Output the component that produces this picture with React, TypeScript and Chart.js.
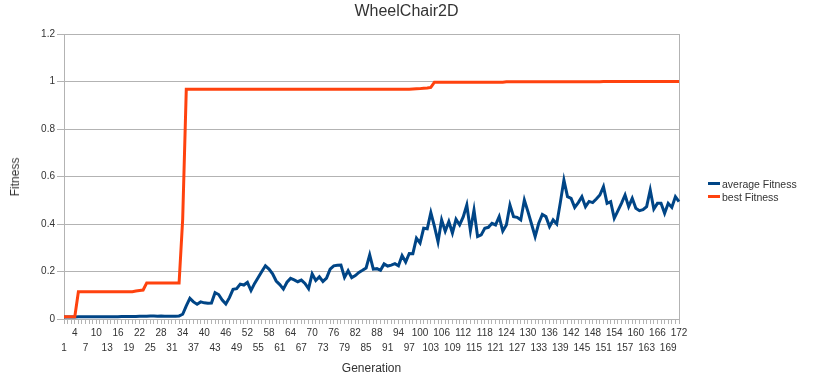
import React, { useEffect, useRef } from "react";
import { Chart, registerables } from "chart.js";

Chart.register(...registerables);

// Categories: generations 1..172
const generations: string[] = Array.from({ length: 172 }, (_, i) => String(i + 1));

const averageFitness: number[] = [
  0.008, 0.008, 0.008, 0.008, 0.009, 0.009, 0.009, 0.009, 0.009, 0.009,
  0.01, 0.01, 0.01, 0.01, 0.01, 0.01, 0.011, 0.011, 0.011, 0.011,
  0.011, 0.012, 0.012, 0.012, 0.013, 0.013, 0.012, 0.013, 0.012, 0.012,
  0.012, 0.012, 0.013, 0.02, 0.055, 0.087, 0.072, 0.062, 0.072, 0.068,
  0.066, 0.067, 0.111, 0.103, 0.08, 0.063, 0.09, 0.125, 0.128, 0.147,
  0.143, 0.154, 0.12, 0.15, 0.175, 0.2, 0.224, 0.21, 0.19, 0.16,
  0.145, 0.126, 0.155, 0.171, 0.165, 0.157, 0.164, 0.15, 0.128, 0.19,
  0.162, 0.178, 0.158, 0.172, 0.21, 0.224, 0.226, 0.227, 0.175, 0.203,
  0.174, 0.183, 0.196, 0.205, 0.215, 0.27, 0.21, 0.212, 0.205, 0.232,
  0.223, 0.227, 0.233, 0.224, 0.267, 0.24, 0.276, 0.275, 0.34, 0.32,
  0.382, 0.38, 0.448, 0.39, 0.325, 0.417, 0.37, 0.41, 0.362, 0.42,
  0.396, 0.43, 0.48, 0.372, 0.459, 0.347, 0.354, 0.382, 0.386, 0.403,
  0.396, 0.431, 0.37, 0.396, 0.48, 0.431, 0.428, 0.417, 0.501, 0.452,
  0.4, 0.347, 0.403, 0.44, 0.431, 0.389, 0.417, 0.4, 0.49, 0.585,
  0.515, 0.508, 0.47, 0.49, 0.515, 0.473, 0.495, 0.49, 0.505, 0.522,
  0.557, 0.487, 0.494, 0.424, 0.455, 0.487, 0.522, 0.473, 0.508, 0.466,
  0.456, 0.46, 0.473, 0.543, 0.463, 0.487, 0.487, 0.445, 0.487, 0.47,
  0.515, 0.494,
];

const bestFitness: number[] = [
  0.01, 0.01, 0.01, 0.01,
  0.115, 0.115, 0.115, 0.115, 0.115, 0.115, 0.115, 0.115,
  0.115, 0.115, 0.115, 0.115, 0.115, 0.115, 0.115, 0.115,
  0.118, 0.12, 0.122,
  0.152, 0.152, 0.152, 0.152, 0.152, 0.152, 0.152, 0.152, 0.152, 0.152,
  0.42,
  0.967, 0.967, 0.967, 0.967, 0.967, 0.967, 0.967, 0.967, 0.967, 0.967,
  0.967, 0.967, 0.967, 0.967, 0.967, 0.967, 0.967, 0.967, 0.967, 0.967,
  0.967, 0.967, 0.967, 0.967, 0.967, 0.967, 0.967, 0.967, 0.967, 0.967,
  0.967, 0.967, 0.967, 0.967, 0.967, 0.967, 0.967, 0.967, 0.967, 0.967,
  0.967, 0.967, 0.967, 0.967, 0.967, 0.967, 0.967, 0.967, 0.967, 0.967,
  0.967, 0.967, 0.967, 0.967, 0.967, 0.967, 0.967, 0.967, 0.967, 0.967,
  0.967, 0.967, 0.967,
  0.968, 0.969, 0.97, 0.972, 0.973, 0.975,
  0.997, 0.997, 0.997, 0.997, 0.997, 0.997, 0.997, 0.997, 0.997, 0.997,
  0.997, 0.997, 0.997, 0.997, 0.997, 0.997, 0.997, 0.997, 0.997, 0.997,
  0.999, 0.999, 0.999, 0.999, 0.999, 0.999, 0.999, 0.999, 0.999, 0.999,
  0.999, 0.999, 0.999, 0.999, 0.999, 0.999, 0.999, 0.999, 0.999, 0.999,
  0.999, 0.999, 0.999, 0.999, 0.999, 0.999, 0.999,
  1, 1, 1, 1, 1, 1, 1, 1, 1, 1, 1,
  1, 1, 1, 1, 1, 1, 1, 1, 1, 1, 1,
];

const yTickValues: number[] = [0, 0.2, 0.4, 0.6, 0.8, 1, 1.2];
const seriesNames: string[] = ["average Fitness", "best Fitness"];
const chartTitle = "WheelChair2D";
const xAxisTitle = "Generation";
const yAxisTitle = "Fitness";

const BLUE = "#004586";
const ORANGE = "#ff420e";
const GRID = "#b3b3b3";
const TEXT = "#333333";
const FONT = "'Liberation Sans', Arial, sans-serif";

export default function App() {
  const canvasRef = useRef<HTMLCanvasElement>(null);

  useEffect(() => {
    if (!canvasRef.current) return;
    const chart = new Chart(canvasRef.current, {
      type: "line",
      data: {
        labels: generations,
        datasets: [
          {
            label: seriesNames[0],
            data: averageFitness,
            borderColor: BLUE,
            backgroundColor: BLUE,
            borderWidth: 3,
            pointRadius: 0,
            tension: 0,
            order: 1,
          },
          {
            label: seriesNames[1],
            data: bestFitness,
            borderColor: ORANGE,
            backgroundColor: ORANGE,
            borderWidth: 3,
            pointRadius: 0,
            tension: 0,
            order: 0,
          },
        ],
      },
      options: {
        responsive: false,
        animation: false,
        layout: { padding: { top: 34, right: 134, bottom: 0, left: 0 } },
        plugins: {
          legend: { display: false },
          title: { display: false },
          tooltip: { enabled: false },
        },
        scales: {
          x: {
            type: "category",
            offset: false,
            grid: {
              drawOnChartArea: true,
              color: (ctx: any) =>
                ctx.index === generations.length - 1 ? GRID : "rgba(0,0,0,0)",
              tickColor: GRID,
              tickLength: 5,
              lineWidth: 1,
            },
            border: { color: GRID, width: 1 },
            ticks: {
              autoSkip: false,
              maxRotation: 0,
              minRotation: 0,
              padding: 1.5,
              color: TEXT,
              font: { family: FONT, size: 10, lineHeight: "15px" },
              callback: (_v: any, i: number) => {
                if (i % 6 === 3) return generations[i];
                if (i % 6 === 0) return ["", generations[i]];
                return "";
              },
            },
            afterFit: (s: any) => {
              s.height = 71;
            },
          },
          y: {
            min: 0,
            max: 1.2,
            afterBuildTicks: (s: any) => {
              s.ticks = yTickValues.map((v) => ({ value: v }));
            },
            grid: { color: GRID, tickLength: 7, lineWidth: 1 },
            border: { color: GRID, width: 1 },
            ticks: {
              padding: 2,
              color: TEXT,
              font: { family: FONT, size: 10 },
              callback: (v: any) => String(+Number(v).toFixed(1)),
            },
            afterFit: (s: any) => {
              s.width = 64;
            },
          },
        },
      },
    });
    return () => chart.destroy();
  }, []);

  const legendRow = (label: string, color: string, top: number) => (
    <div
      key={label}
      style={{
        position: "absolute",
        left: 708,
        top,
        height: 13,
        display: "flex",
        alignItems: "center",
        fontFamily: FONT,
        fontSize: 10.5,
        color: TEXT,
        whiteSpace: "nowrap",
      }}
    >
      <span
        style={{
          display: "inline-block",
          width: 12,
          height: 3,
          background: color,
          marginRight: 2,
        }}
      />
      <span>{label}</span>
    </div>
  );

  return (
    <div
      style={{
        position: "absolute",
        left: 0,
        top: 0,
        width: 813,
        height: 390,
        background: "#ffffff",
        overflow: "hidden",
      }}
    >
      <canvas ref={canvasRef} width={813} height={390} style={{ display: "block" }} />
      <div
        style={{
          position: "absolute",
          left: 0,
          top: 1,
          width: 813,
          textAlign: "center",
          fontFamily: FONT,
          fontSize: 16,
          lineHeight: "20px",
          color: TEXT,
        }}
      >
        {chartTitle}
      </div>
      <div
        style={{
          position: "absolute",
          left: 64,
          width: 615,
          top: 360,
          textAlign: "center",
          fontFamily: FONT,
          fontSize: 12,
          lineHeight: "16px",
          color: TEXT,
        }}
      >
        {xAxisTitle}
      </div>
      <div
        style={{
          position: "absolute",
          left: 15,
          top: 177,
          transform: "translate(-50%, -50%) rotate(-90deg)",
          fontFamily: FONT,
          fontSize: 12,
          lineHeight: "16px",
          color: TEXT,
          whiteSpace: "nowrap",
        }}
      >
        {yAxisTitle}
      </div>
      {legendRow(seriesNames[0], BLUE, 177)}
      {legendRow(seriesNames[1], ORANGE, 190)}
    </div>
  );
}
